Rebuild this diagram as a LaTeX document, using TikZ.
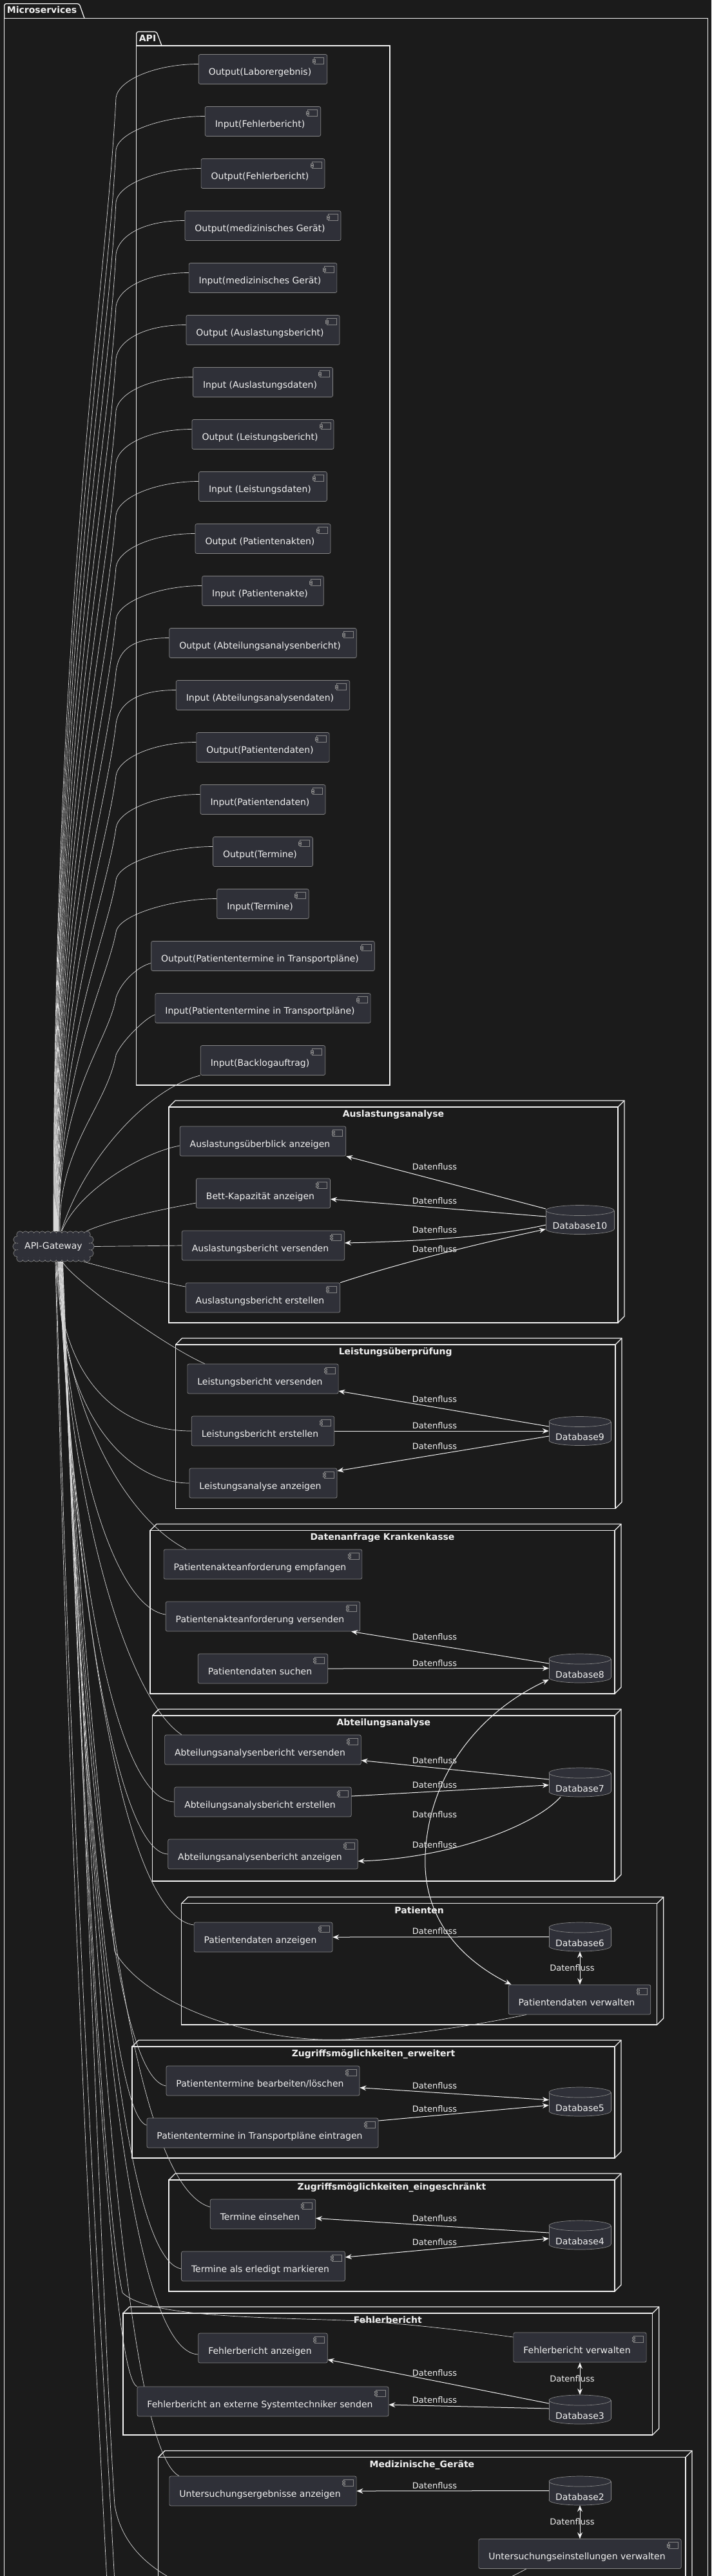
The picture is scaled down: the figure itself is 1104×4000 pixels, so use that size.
\documentclass[tikz,border=0pt]{standalone}
\usepackage{fontspec}
\setmainfont{DejaVu Sans}
\usetikzlibrary{arrows.meta}
\definecolor{bgc}{HTML}{1B1B1B}
\definecolor{boxfill}{HTML}{2F3038}
\definecolor{boxline}{HTML}{858585}
\definecolor{txt}{HTML}{F0F0F0}
\definecolor{lnc}{HTML}{D8D8D8}
\definecolor{frm}{HTML}{F2F2F2}
\pgfdeclarelayer{back}
\pgfdeclarelayer{mid}
\pgfsetlayers{back,mid,main}
\tikzset{
  comp/.style={rectangle, rounded corners=2.5pt, draw=boxline, line width=0.7pt, fill=boxfill,
    text=txt, font=\fontsize{14}{16}\selectfont, minimum height=46pt, inner ysep=0pt, inner xsep=15.5pt,
    text height=21pt, text depth=3pt, execute at end node={\hspace*{9pt}},
    path picture={
      \draw[boxline, line width=0.7pt, sharp corners] ([xshift=-20pt,yshift=-5pt]path picture bounding box.north east) rectangle ++(15pt,-10pt);
      \filldraw[draw=boxline, fill=boxfill, line width=0.6pt, sharp corners] ([xshift=-22pt,yshift=-7.5pt]path picture bounding box.north east) rectangle ++(4pt,-2pt);
      \filldraw[draw=boxline, fill=boxfill, line width=0.6pt, sharp corners] ([xshift=-22pt,yshift=-11pt]path picture bounding box.north east) rectangle ++(4pt,-2pt);
    }},
  gwl/.style={draw=lnc, line width=0.7pt},
  df/.style={draw=frm, line width=1pt, -{Stealth[length=10pt,width=8pt,inset=3.5pt]}},
  dfb/.style={df, {Stealth[length=10pt,width=8pt,inset=3.5pt]}-{Stealth[length=10pt,width=8pt,inset=3.5pt]}},
  lbl/.style={text=txt, font=\fontsize{13}{15}\selectfont, inner sep=0pt, anchor=base},
  ttl/.style={text=txt, font=\bfseries\fontsize{14}{16}\selectfont, inner sep=0pt, anchor=base},
  pkline/.style={draw=frm, line width=1.3pt},
  dbst/.style={draw=boxline, fill=boxfill, line width=0.7pt},
}
% package frame: x0, tab top, frame top, x1, y bottom, tab right, label, name
\newcommand\pkgframe[8]{%
  \draw[pkline] (#1,#3) -- (#4,#3) -- (#4,#5) -- (#1,#5) -- cycle;
  \draw[pkline, rounded corners=3pt] (#1,#3) -- (#1,#2) -- (#6,#2) -- ({#6+8},#3);
  \node[ttl, anchor=base west] (#8) at ({#1+4},{#2+15}) {#7};
}
% node (3D) frame: x0, ytop, x1, ybottom, name, title
\newcommand\nodeframe[6]{%
  \draw[pkline] (#1,#2) rectangle (#3,#4);
  \draw[pkline] (#1,#2) -- ({#1+10},{#2-10}) -- ({#3+10},{#2-10}) -- ({#3+10},{#4-10}) -- (#3,#4);
  \draw[pkline] ({#3+10},{#2-10}) -- (#3,#2);
  \node[ttl] (#5) at ({(#1+#3)/2},{#2+15.5}) {#6};
}
% database cylinder: name, cx, cy, half width, label
\newcommand\dbcyl[5]{%
  \filldraw[dbst] (#2,{#3+14.5}) ellipse [x radius=#4pt, y radius=8pt];
  \fill[boxfill] ({#2-#4},{#3-14.5}) rectangle ({#2+#4},{#3+14.5});
  \draw[boxline, line width=0.7pt] ({#2-#4},{#3-14.5}) -- ({#2-#4},{#3+14.5}) ({#2+#4},{#3-14.5}) -- ({#2+#4},{#3+14.5});
  \filldraw[dbst] (#2,{#3-14.5}) ellipse [x radius=#4pt, y radius=8pt];
  \node[inner sep=0pt, minimum width={2*#4}, minimum height=45pt] (#1) at (#2,#3) {};
  \node[text=txt, font=\fontsize{14}{16}\selectfont, inner sep=0pt, anchor=base] (#1t) at (#2,{#3+14.5}) {#5};
}
% API edge: node, center y, gateway xshift
\newcommand\apiedge[3]{%
  \draw[gwl] ([yshift=8pt]#1.west) .. controls +(-65,0) and +(4,-28) .. (180,{#2+44})
    .. controls (165,{#2+44+0.17*(1868-#2)}) and ({83+#3},{#2+44+0.45*(1868-#2)}) .. ([xshift=#3pt]gw.north);
}
\begin{document}
\begin{tikzpicture}[x=1pt,y=-1pt]
\useasboundingbox (0,0) rectangle (1104,4000);
\begin{pgfonlayer}{back}
\fill[bgc] (0,0) rectangle (1104,4000);
\pkgframe{6.7}{5.7}{28.3}{1098.5}{4100}{123}{Microservices}{pk1}
\pkgframe{211.7}{49.3}{71}{605}{1685}{243}{API}{pk2}
\nodeframe{262}{1719}{959}{2054}{t1}{Auslastungsanalyse}
\nodeframe{272.5}{2088}{955}{2342.5}{t2}{Leistungsüberprüfung}
\nodeframe{233}{2376.4}{954}{2630}{t3}{Datenanfrage Krankenkasse}
\nodeframe{236.6}{2664}{954}{2921}{t4}{Abteilungsanalyse}
\nodeframe{281.7}{2955.7}{1019.7}{3144}{t5}{Patienten}
\nodeframe{205}{3178}{954}{3351}{t6}{Zugriffsmöglichkeiten\_erweitert}
\nodeframe{262}{3385}{954}{3558}{t7}{Zugriffsmöglichkeiten\_eingeschränkt}
\nodeframe{191}{3592}{1012.7}{3781}{t8}{Fehlerbericht}
\nodeframe{245.8}{3815.5}{1064}{4100}{t9}{Medizinische\_Geräte}
\end{pgfonlayer}

% API gateway cloud
\path[draw=boxline, line width=1.6pt] \foreach \i in {0,...,12} { ({31+8.667*\i},1917) circle[radius=4.8pt] ({31+8.667*\i},1954) circle[radius=4.8pt] }
  (26.5,1925) circle[radius=5.2pt] (25.5,1935.5) circle[radius=5.2pt] (26.5,1946) circle[radius=5.2pt]
  (139.5,1925) circle[radius=5.2pt] (140.5,1935.5) circle[radius=5.2pt] (139.5,1946) circle[radius=5.2pt];
\path[fill=boxfill] \foreach \i in {0,...,12} { ({31+8.667*\i},1917) circle[radius=4.8pt] ({31+8.667*\i},1954) circle[radius=4.8pt] }
  (26.5,1925) circle[radius=5.2pt] (25.5,1935.5) circle[radius=5.2pt] (26.5,1946) circle[radius=5.2pt]
  (139.5,1925) circle[radius=5.2pt] (140.5,1935.5) circle[radius=5.2pt] (139.5,1946) circle[radius=5.2pt];
\fill[boxfill] (28,1919) rectangle (138,1952);
\node[text=txt, font=\fontsize{14}{16}\selectfont, minimum width=122pt, minimum height=47pt, inner sep=0pt] (gw) at (83,1935.5) {API-Gateway};

% API components
\node[comp] (api1) at (408,107.5) {Output(Laborergebnis)};
\node[comp] (api2) at (408,188.5) {Input(Fehlerbericht)};
\node[comp] (api3) at (408,269.5) {Output(Fehlerbericht)};
\node[comp] (api4) at (408,350.5) {Output(medizinisches Gerät)};
\node[comp] (api5) at (408,431.5) {Input(medizinisches Gerät)};
\node[comp] (api6) at (408,512.5) {Output (Auslastungsbericht)};
\node[comp] (api7) at (408,593.5) {Input (Auslastungsdaten)};
\node[comp] (api8) at (408,674.5) {Output (Leistungsbericht)};
\node[comp] (api9) at (408,755.5) {Input (Leistungsdaten)};
\node[comp] (api10) at (408,836.5) {Output (Patientenakten)};
\node[comp] (api11) at (408,917.5) {Input (Patientenakte)};
\node[comp] (api12) at (408,998.5) {Output (Abteilungsanalysenbericht)};
\node[comp] (api13) at (408,1079.5) {Input (Abteilungsanalysendaten)};
\node[comp] (api14) at (408,1160.5) {Output(Patientendaten)};
\node[comp] (api15) at (408,1241.5) {Input(Patientendaten)};
\node[comp] (api16) at (408,1322.5) {Output(Termine)};
\node[comp] (api17) at (408,1403.5) {Input(Termine)};
\node[comp] (api18) at (408,1484.5) {Output(Patiententermine in Transportpläne)};
\node[comp] (api19) at (408,1565.5) {Input(Patiententermine in Transportpläne)};
\node[comp] (api20) at (408,1646.5) {Input(Backlogauftrag)};

% Service components
\node[comp] (aub) at (408,1772) {Auslastungsüberblick anzeigen};
\node[comp] (bka) at (408.5,1853) {Bett-Kapazität anzeigen};
\node[comp] (abv) at (408.5,1934) {Auslastungsbericht versenden};
\node[comp] (abe) at (408,2015) {Auslastungsbericht erstellen};
\node[comp] (lbv) at (408,2141) {Leistungsbericht versenden};
\node[comp] (lbe) at (408,2222) {Leistungsbericht erstellen};
\node[comp] (laa) at (408.5,2303) {Leistungsanalyse anzeigen};
\node[comp] (pae) at (408,2429) {Patientenakteanforderung empfangen};
\node[comp] (pav) at (408,2510) {Patientenakteanforderung versenden};
\node[comp] (pds) at (408,2591) {Patientendaten suchen};
\node[comp] (aav) at (408,2717) {Abteilungsanalysenbericht versenden};
\node[comp] (aae) at (408,2798) {Abteilungsanalysbericht erstellen};
\node[comp] (aaa) at (408,2879) {Abteilungsanalysenbericht anzeigen};
\node[comp] (pda) at (408.5,3008) {Patientendaten anzeigen};
\node[comp] (pdv) at (899.5,3105) {Patientendaten verwalten};
\node[comp] (ptb) at (408,3231) {Patiententermine bearbeiten/löschen};
\node[comp] (pte) at (407.5,3312) {Patiententermine in Transportpläne eintragen};
\node[comp] (tei) at (408,3438) {Termine einsehen};
\node[comp] (tem) at (408.5,3519) {Termine als erledigt markieren};
\node[comp] (fba) at (408,3646) {Fehlerbericht anzeigen};
\node[comp] (fbv) at (900,3645) {Fehlerbericht verwalten};
\node[comp] (fbs) at (408,3729) {Fehlerbericht an externe Systemtechniker senden};
\node[comp] (uea) at (408,3868) {Untersuchungsergebnisse anzeigen};
\node[comp] (uev) at (900,3965.5) {Untersuchungseinstellungen verwalten};

% Databases
\dbcyl{db10}{900}{1894}{53}{Database10}
\dbcyl{db9}{900}{2222}{48}{Database9}
\dbcyl{db8}{900}{2590.5}{48}{Database8}
\dbcyl{db7}{900}{2767.5}{48}{Database7}
\dbcyl{db6}{900}{3007.5}{48}{Database6}
\dbcyl{db5}{900}{3263.5}{48}{Database5}
\dbcyl{db4}{900}{3470.5}{48}{Database4}
\dbcyl{db3}{900}{3741.5}{48}{Database3}
\dbcyl{db2}{900}{3867.5}{48}{Database2}

\begin{pgfonlayer}{mid}
% gateway -> API
\apiedge{api1}{107.5}{0}
\apiedge{api2}{188.5}{0.5}
\apiedge{api3}{269.5}{1}
\apiedge{api4}{350.5}{1.5}
\apiedge{api5}{431.5}{2}
\apiedge{api6}{512.5}{2.5}
\apiedge{api7}{593.5}{3}
\apiedge{api8}{674.5}{3.5}
\apiedge{api9}{755.5}{4}
\apiedge{api10}{836.5}{4.5}
\apiedge{api11}{917.5}{5}
\apiedge{api12}{998.5}{5.5}
\apiedge{api13}{1079.5}{6}
\apiedge{api14}{1160.5}{6.5}
\apiedge{api15}{1241.5}{7}
\apiedge{api16}{1322.5}{7.5}
\apiedge{api17}{1403.5}{8}
\draw[gwl] ([yshift=-11pt]api18.west) .. controls +(-20,5) and +(8,-25) .. (180,1549) .. controls (168,1620) and (88,1700) .. ([xshift=9pt]gw.north);
\draw[gwl] ([yshift=-10pt]api19.west) .. controls +(-15,5) and +(8,-20) .. (180,1638) .. controls (165,1720) and (90,1780) .. ([xshift=10pt]gw.north);
\draw[gwl] (api20.south west) .. controls (230,1690) and (130,1800) .. ([xshift=12pt]gw.north);
% gateway -> services
\draw[gwl] ([yshift=-7pt]aub.west) .. controls (220,1790) and (120,1850) .. ([xshift=13pt]gw.north);
\draw[gwl] ([yshift=-15pt]bka.west) .. controls (250,1878) and (170,1895) .. ([xshift=51pt]gw.north);
\draw[gwl] (gw.east) -- (abv.west);
\draw[gwl] ([xshift=47pt]gw.south) .. controls (170,1970) and (245,1990) .. ([yshift=17pt]abe.west);
\draw[gwl] ([xshift=14pt]gw.south) .. controls (110,1985) and (255,2090) .. ([xshift=-90pt]lbv.north);
\draw[gwl] ([xshift=5pt]gw.south) .. controls (92,2150) and (190,2222) .. (lbe.west);
\draw[gwl] ([xshift=6pt]gw.south) .. controls (92,2200) and (200,2303) .. (laa.west);
\draw[gwl] ([xshift=7pt]gw.south) .. controls (98,2200) and (200,2360) .. ([xshift=-119pt]pae.north);
\draw[gwl] ([xshift=7.5pt]gw.south) .. controls (105,2250) and (175,2495) .. ([yshift=3pt]pav.west);
\draw[gwl] ([xshift=8pt]gw.south) .. controls (108,2350) and (200,2640) .. ([xshift=-126pt]aav.north);
\draw[gwl] ([xshift=8.5pt]gw.south) .. controls (110,2400) and (175,2795) .. (aae.west);
\draw[gwl] ([xshift=9pt]gw.south) .. controls (112,2450) and (180,2876) .. (aaa.west);
\draw[gwl] ([xshift=9.5pt]gw.south) .. controls (118,2500) and (190,2975) .. ([yshift=19pt]pda.west);
\draw[gwl] ([xshift=10pt]gw.south) .. controls (120,2500) and (165,2900) .. (178,3030) .. controls (230,3120) and (420,3180) .. (560,3165) .. controls (680,3155) and (760,3140) .. ([xshift=-82.5pt]pdv.south);
\draw[gwl] ([xshift=10.5pt]gw.south) .. controls (125,2700) and (175,3225) .. ([yshift=-8pt]ptb.west);
\draw[gwl] ([xshift=11pt]gw.south) .. controls (125,2700) and (170,3285) .. ([yshift=12pt]pte.west);
\draw[gwl] ([xshift=11.5pt]gw.south) .. controls (130,2800) and (200,3390) .. ([yshift=11pt]tei.west);
\draw[gwl] ([xshift=12pt]gw.south) .. controls (128,2800) and (180,3505) .. ([yshift=-4pt]tem.west);
\draw[gwl] ([xshift=12.5pt]gw.south) .. controls (132,2900) and (165,3450) .. (190,3560) .. controls (230,3600) and (420,3598) .. (560,3604) .. controls (650,3610) and (730,3620) .. ([yshift=16pt]fbv.west);
\draw[gwl] ([xshift=13pt]gw.south) .. controls (132,2900) and (185,3650) .. ([yshift=-10pt]fba.west);
\draw[gwl] ([xshift=13.5pt]gw.south) .. controls (130,2900) and (170,3690) .. (fbs.north west);
\draw[gwl] ([xshift=14pt]gw.south) .. controls (138,3000) and (190,3800) .. ([xshift=-130pt]uea.north);
\draw[gwl] ([xshift=14.5pt]gw.south) .. controls (138,3000) and (165,3700) .. (178,3890) .. controls (195,3990) and (300,4040) .. (480,4060) .. controls (640,4075) and (740,4030) .. ([xshift=-83pt]uev.south);
\coordinate (ob1) at (166,4010);
\coordinate (ob2) at (178,4010);
\draw[gwl] ([xshift=3pt]gw.south) .. controls (105,2800) and (140,3500) .. (ob1);
\draw[gwl] ([xshift=4pt]gw.south) .. controls (108,2800) and (150,3500) .. (ob2);
\end{pgfonlayer}

% Datenfluss connectors
\draw[df] ([yshift=17pt]db10.west) -- (aub.south east);
\draw[df] ([yshift=5pt]db10.west) -- ([yshift=-9pt]bka.east);
\draw[df] ([yshift=-8pt]db10.west) .. controls (760,1922) and (630,1928) .. ([yshift=4pt]abv.east);
\draw[df] (abe.north east) .. controls (640,1955) and (770,1925) .. ([yshift=-14.6pt]db10.west);
\draw[df] ([yshift=7pt]db9.west) -- ([yshift=-19pt]lbv.east);
\draw[df] (lbe.east) -- (db9.west);
\draw[df] ([yshift=-8pt]db9.west) -- ([yshift=19pt]laa.east);
\draw[df] ([yshift=7.5pt]db8.west) -- ([xshift=-14pt]pav.south east);
\draw[df] (pds.east) -- (db8.west);
\draw[df] ([yshift=4.5pt]db7.west) -- ([yshift=-16.5pt]aav.east);
\draw[df] ([yshift=9pt]aae.east) -- ([yshift=-4.3pt]db7.west);
\draw[df] ([xshift=-30pt]db7.south) .. controls (830,2835) and (700,2885) .. ([yshift=-11pt]aaa.east);
\draw[dfb] ([yshift=-17.5pt]db8.west) .. controls (740,2660) and (665,2760) .. (660,2880) .. controls (655,2990) and (730,3050) .. ([xshift=-106pt]pdv.north);
\draw[df] (db6.west) -- (pda.east);
\draw[dfb] (db6.south) -- (db6.south |- pdv.north);
\draw[dfb] ([yshift=-10.7pt]ptb.east) -- ([yshift=2.8pt]db5.west);
\draw[df] ([yshift=19pt]pte.east) -- ([yshift=-5.5pt]db5.west);
\draw[df] ([yshift=3.5pt]db4.west) -- ([yshift=-6.5pt]tei.east);
\draw[dfb] ([yshift=14pt]tem.east) -- ([yshift=-5.5pt]db4.west);
\draw[df] ([yshift=9.5pt]db3.west) -- ([yshift=-18pt]fba.east);
\draw[df] ([yshift=1.5pt]db3.west) -- ([yshift=-5pt]fbs.east);
\draw[dfb] (db3.north) -- (db3.north |- fbv.south);
\draw[df] (db2.west) -- (uea.east);
\draw[dfb] (db2.south) -- (db2.south |- uev.north);

% labels
\node[lbl] (l1) at (674.6,1816.5) {Datenfluss};
\node[lbl] (l2) at (674.6,1869.5) {Datenfluss};
\node[lbl] (l3) at (674.6,1914.5) {Datenfluss};
\node[lbl] (l4) at (674.6,1944.5) {Datenfluss};
\node[lbl] (l5) at (674.6,2177.5) {Datenfluss};
\node[lbl] (l6) at (674.6,2218) {Datenfluss};
\node[lbl] (l7) at (674.6,2250.5) {Datenfluss};
\node[lbl] (l8) at (674.6,2546.5) {Datenfluss};
\node[lbl] (l9) at (674.6,2587) {Datenfluss};
\node[lbl] (l10) at (674.6,2738) {Datenfluss};
\node[lbl] (l11) at (674.6,2776.3) {Datenfluss};
\node[lbl] (l12) at (674.6,2822.5) {Datenfluss};
\node[lbl] (l13) at (674.6,2869) {Datenfluss};
\node[lbl] (l14) at (674.6,3003.5) {Datenfluss};
\node[lbl] (l15) at (888,3060.5) {Datenfluss};
\node[lbl] (l16) at (674.6,3243) {Datenfluss};
\node[lbl] (l17) at (674.6,3279) {Datenfluss};
\node[lbl] (l18) at (674.6,3449.5) {Datenfluss};
\node[lbl] (l19) at (674.6,3486) {Datenfluss};
\node[lbl] (l20) at (674.6,3689.5) {Datenfluss};
\node[lbl] (l21) at (888,3698) {Datenfluss};
\node[lbl] (l22) at (674.6,3731) {Datenfluss};
\node[lbl] (l23) at (674.6,3864) {Datenfluss};
\node[lbl] (l24) at (888,3920.5) {Datenfluss};
\end{tikzpicture}
\end{document}
